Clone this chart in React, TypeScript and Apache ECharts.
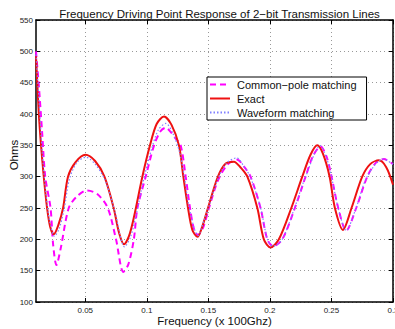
import React, { useEffect, useRef } from "react";
import * as echarts from "echarts";

const title = "Frequency Driving Point Response of 2\u2212bit Transmission Lines";
const xLabel = "Frequency (x 100Ghz)";
const yLabel = "Ohms";
const seriesNames = ["Common\u2212pole matching", "Exact", "Waveform matching"];
const xTicks = [0.05, 0.1, 0.15, 0.2, 0.25, 0.3];
const yTicks = [100, 150, 200, 250, 300, 350, 400, 450, 500, 550];

const commonX = [0.01, 0.0125, 0.015, 0.0175, 0.0218, 0.024, 0.0266, 0.03, 0.0366, 0.043, 0.0515, 0.06, 0.0683, 0.075, 0.081, 0.085, 0.0894, 0.0924, 0.0991, 0.1059, 0.111, 0.1153, 0.12, 0.123, 0.1275, 0.1316, 0.1351, 0.1385, 0.1416, 0.146, 0.1505, 0.158, 0.166, 0.1735, 0.179, 0.1843, 0.1924, 0.1979, 0.2027, 0.2101, 0.2203, 0.229, 0.235, 0.2412, 0.246, 0.2501, 0.2555, 0.262, 0.2701, 0.2791, 0.286, 0.2925, 0.3];
const commonY = [500, 440, 370, 300, 250, 190, 159, 185, 250, 268, 278, 272, 250, 200, 148, 160, 199, 250, 300, 350, 372, 378, 370, 362, 350, 300, 250, 215, 207, 220, 250, 295, 320, 327, 316, 300, 250, 200, 189, 200, 250, 300, 333, 348, 332, 300, 250, 214, 250, 300, 322, 328, 320];

const exactX = [0.01, 0.0123, 0.0141, 0.0163, 0.019, 0.0215, 0.0244, 0.028, 0.032, 0.036, 0.042, 0.0502, 0.058, 0.0656, 0.0731, 0.0775, 0.0815, 0.0855, 0.0894, 0.0964, 0.1026, 0.108, 0.114, 0.12, 0.1261, 0.1297, 0.1335, 0.137, 0.1411, 0.145, 0.1497, 0.1578, 0.1641, 0.1708, 0.176, 0.1817, 0.1898, 0.1951, 0.2006, 0.2073, 0.2174, 0.2263, 0.233, 0.2385, 0.243, 0.2485, 0.2528, 0.2593, 0.2663, 0.275, 0.2815, 0.2885, 0.2945, 0.3];
const exactY = [492, 400, 350, 300, 250, 220, 208, 222, 250, 300, 323, 335, 325, 300, 250, 210, 192, 205, 234, 300, 350, 384, 396, 383, 350, 300, 250, 215, 204, 220, 250, 300, 321, 324, 315, 300, 250, 200, 187, 200, 250, 300, 335, 350, 337, 300, 250, 215, 250, 300, 320, 326, 315, 287];

const waveX = [0.01, 0.0125, 0.015, 0.018, 0.021, 0.025, 0.029, 0.033, 0.037, 0.043, 0.0505, 0.058, 0.066, 0.074, 0.082, 0.087, 0.092, 0.098, 0.104, 0.1095, 0.1155, 0.121, 0.1265, 0.1305, 0.1345, 0.1415, 0.1465, 0.15, 0.158, 0.165, 0.173, 0.179, 0.184, 0.1925, 0.198, 0.2025, 0.21, 0.22, 0.229, 0.241, 0.246, 0.25, 0.2555, 0.262, 0.27, 0.279, 0.292, 0.3];
const waveY = [495, 420, 340, 275, 230, 205, 218, 250, 295, 322, 331, 320, 295, 245, 188, 205, 245, 300, 345, 375, 385, 370, 340, 300, 250, 206, 230, 250, 298, 322, 330, 316, 300, 250, 200, 189, 200, 250, 300, 349, 330, 300, 250, 214, 250, 300, 328, 320];

const FONT = "'Liberation Sans', Arial, Helvetica, sans-serif";

function pairs(xs: number[], ys: number[]) {
  return xs.map((x, i) => [x, ys[i]]);
}

export default function App() {
  const ref = useRef<HTMLDivElement>(null);
  useEffect(() => {
    if (!ref.current) return;
    const chart = echarts.init(ref.current, undefined, { renderer: "svg" });
    const axisLine = { show: true, lineStyle: { color: "#000", width: 1.5 } };
    chart.setOption({
      animation: false,
      backgroundColor: "#fff",
      title: {
        text: title,
        left: 214.5,
        textAlign: "center",
        top: 3,
        textStyle: { fontFamily: FONT, fontSize: 11.5, fontWeight: "normal", color: "#111" },
      },
      grid: { left: 36, right: 17, top: 20, bottom: 27, containLabel: false, outerBoundsMode: "none" },
      legend: {
        data: seriesNames,
        orient: "vertical",
        left: 207,
        top: 77,
        itemWidth: 20,
        itemHeight: 10,
        itemGap: 3,
        padding: [2, 10, 2, 2],
        borderColor: "#000",
        borderWidth: 1,
        borderRadius: 0,
        backgroundColor: "#fff",
        itemStyle: { opacity: 0 },
        textStyle: { fontFamily: FONT, fontSize: 11, color: "#111", padding: [0, 0, 0, 2] },
      },
      xAxis: [
        {
          type: "value",
          min: 0.01,
          max: 0.3,
          name: xLabel,
          nameLocation: "middle",
          nameGap: 13,
          nameMoveOverlap: false,
          nameTextStyle: { fontFamily: FONT, fontSize: 11.5, color: "#111" },
          axisLine,
          axisTick: { show: true, inside: true, length: 4, customValues: xTicks, lineStyle: { color: "#000" } },
          axisLabel: { customValues: xTicks, fontFamily: FONT, fontSize: 8, color: "#222", margin: 4 },
          splitLine: { show: true, customValues: xTicks, lineStyle: { color: "#999", type: [1, 3], width: 1 } },
        },
        {
          type: "value",
          min: 0.01,
          max: 0.3,
          position: "top",
          axisLine,
          axisTick: { show: true, inside: true, length: 4, customValues: xTicks, lineStyle: { color: "#000" } },
          axisLabel: { show: false },
          splitLine: { show: false },
        },
      ],
      yAxis: [
        {
          type: "value",
          min: yTicks[0],
          max: yTicks[yTicks.length - 1],
          interval: 50,
          name: yLabel,
          nameLocation: "middle",
          nameGap: 16,
          nameMoveOverlap: false,
          nameTextStyle: { fontFamily: FONT, fontSize: 11.5, color: "#111", padding: [0, 0, 0, 12] },
          axisLine,
          axisTick: { show: true, inside: true, length: 4, lineStyle: { color: "#000" } },
          axisLabel: { fontFamily: FONT, fontSize: 8, color: "#222", margin: 3 },
          splitLine: { show: true, lineStyle: { color: "#999", type: [1, 3], width: 1 } },
        },
        {
          type: "value",
          min: yTicks[0],
          max: yTicks[yTicks.length - 1],
          interval: 50,
          position: "right",
          axisLine,
          axisTick: { show: true, inside: true, length: 4, lineStyle: { color: "#000" } },
          axisLabel: { show: false },
          splitLine: { show: false },
        },
      ],
      series: [
        {
          name: seriesNames[0],
          type: "line",
          data: pairs(commonX, commonY),
          smooth: 0.3,
          symbol: "none",
          lineStyle: { color: "#ff00ff", width: 2, type: [6, 4] },
          itemStyle: { color: "#ff00ff" },
        },
        {
          name: seriesNames[1],
          type: "line",
          data: pairs(exactX, exactY),
          smooth: 0.3,
          symbol: "none",
          lineStyle: { color: "#ee1111", width: 2 },
          itemStyle: { color: "#ee1111" },
        },
        {
          name: seriesNames[2],
          type: "line",
          data: pairs(waveX, waveY),
          smooth: 0.3,
          symbol: "none",
          lineStyle: { color: "#8080ff", width: 1.2, type: [1.5, 2] },
          itemStyle: { color: "#8080ff" },
        },
      ],
    });
    return () => chart.dispose();
  }, []);
  return (
    <div style={{ position: "fixed", left: 0, top: 0, width: 395, height: 329, overflow: "hidden", background: "#fff" }}>
      <div ref={ref} style={{ width: 410, height: 329 }} />
    </div>
  );
}
